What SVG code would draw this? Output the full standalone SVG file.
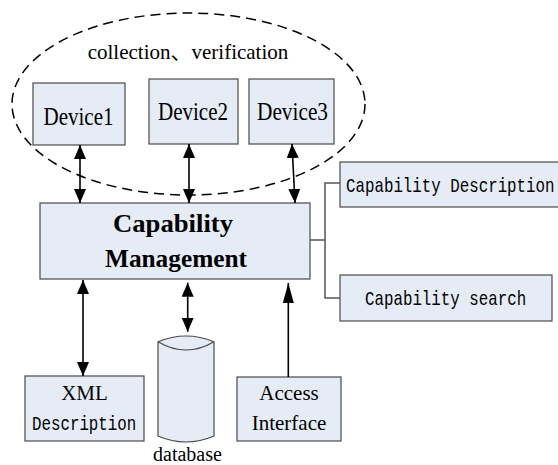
<svg xmlns="http://www.w3.org/2000/svg" width="558" height="465" viewBox="0 0 558 465">
<defs>
<marker id="ah" viewBox="0 0 14 12" refX="14" refY="6" markerWidth="14" markerHeight="12" markerUnits="userSpaceOnUse" orient="auto-start-reverse"><path d="M0,0 L14,6 L0,12 Z" fill="#000"/></marker>
<marker id="ahl" viewBox="0 0 20 11" refX="20" refY="5.5" markerWidth="20" markerHeight="11" markerUnits="userSpaceOnUse" orient="auto"><path d="M0,0 L20,5.5 L0,11 Z" fill="#000"/></marker>
</defs>
<style>
.box{fill:#E6ECF6;stroke:#4a4a4a;stroke-width:1.2}
.serif{font-family:"Liberation Serif","Times New Roman",serif;fill:#000}
.mono{font-family:"Liberation Mono","DejaVu Sans Mono",monospace;font-size:20px;fill:#000}
.arr{stroke:#000;stroke-width:1.6;fill:none}
.br{stroke:#555;stroke-width:1.5;fill:none}
</style>
<rect width="558" height="465" fill="#fff"/>
<g id="group-ellipse">
<ellipse cx="188.5" cy="104" rx="176.5" ry="91" fill="none" stroke="#000" stroke-width="1.5" stroke-dasharray="10 6"/>
<text class="serif" x="188" y="59" font-size="21" text-anchor="middle">collection<tspan font-family="Noto Sans CJK SC, sans-serif">、</tspan>verification</text>
</g>
<g id="device1"><rect class="box" x="33" y="83" width="92" height="62"/><text class="serif" x="78.5" y="125" font-size="25" text-anchor="middle" textLength="70" lengthAdjust="spacingAndGlyphs">Device1</text></g>
<g id="device2"><rect class="box" x="149" y="79" width="89" height="65"/><text class="serif" x="193" y="120" font-size="25" text-anchor="middle" textLength="70" lengthAdjust="spacingAndGlyphs">Device2</text></g>
<g id="device3"><rect class="box" x="249" y="79" width="85" height="65"/><text class="serif" x="292.5" y="120" font-size="25" text-anchor="middle" textLength="71" lengthAdjust="spacingAndGlyphs">Device3</text></g>
<g id="capability-management"><rect class="box" x="40" y="203" width="270" height="76"/>
<text class="serif" x="173" y="232" font-size="26" font-weight="bold" text-anchor="middle" textLength="120" lengthAdjust="spacingAndGlyphs">Capability</text>
<text class="serif" x="176" y="267" font-size="26" font-weight="bold" text-anchor="middle" textLength="142" lengthAdjust="spacingAndGlyphs">Management</text></g>
<g id="capability-description"><rect class="box" x="340" y="162" width="222" height="45"/><text class="mono" transform="translate(346,192) scale(0.79,1)">Capability Description</text></g>
<g id="capability-search"><rect class="box" x="340" y="275" width="212" height="46"/><text class="mono" transform="translate(365,305) scale(0.79,1)">Capability search</text></g>
<g id="xml-description"><rect class="box" x="25" y="376" width="119" height="65"/>
<text class="serif" x="84.5" y="400" font-size="21" text-anchor="middle">XML</text>
<text class="mono" transform="translate(32,430) scale(0.79,1)">Description</text></g>
<g id="database">
<path d="M158,341.7 Q186,330.3 214,341.7 L214,436 Q186,448 158,436 Z" fill="#E6ECF6" stroke="#4a4a4a" stroke-width="1.2"/>
<path d="M158,341.7 Q186,358.3 214,341.7" fill="none" stroke="#4a4a4a" stroke-width="1.2"/>
<text class="serif" x="187.5" y="461" font-size="20" text-anchor="middle">database</text></g>
<g id="access-interface"><rect class="box" x="237" y="377" width="104" height="64"/>
<text class="serif" x="289" y="400" font-size="21" text-anchor="middle">Access</text>
<text class="serif" x="289" y="430" font-size="21" text-anchor="middle">Interface</text></g>
<g id="connectors">
<line class="arr" x1="80" y1="145" x2="80" y2="203" marker-start="url(#ah)" marker-end="url(#ah)"/>
<line class="arr" x1="189" y1="144" x2="189" y2="203" marker-start="url(#ah)" marker-end="url(#ah)"/>
<line class="arr" x1="292" y1="144" x2="295" y2="203" marker-start="url(#ah)" marker-end="url(#ah)"/>
<line class="arr" x1="83" y1="280" x2="83" y2="376" marker-start="url(#ah)" marker-end="url(#ah)"/>
<line class="arr" x1="187.7" y1="282.7" x2="187.7" y2="331.7" marker-start="url(#ah)" marker-end="url(#ah)"/>
<line class="arr" x1="288.3" y1="377" x2="288.3" y2="283" marker-end="url(#ahl)"/>
<path class="br" d="M310,240 H325 M340,183 H325 V298 H340"/>
</g>
</svg>
